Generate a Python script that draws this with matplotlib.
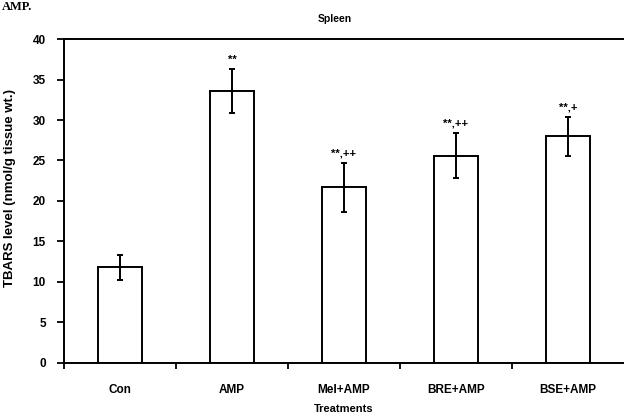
import matplotlib
matplotlib.use("Agg")
import matplotlib.pyplot as plt
import numpy as np

treatments = ["Con", "AMP", "Mel+AMP", "BRE+AMP", "BSE+AMP"]
tbars = [11.8, 33.6, 21.7, 25.6, 28.0]
sem = [1.5, 2.7, 3.0, 2.8, 2.4]
marks = ["", "**", "**,++", "**,++", "**,+"]

plt.rcParams['font.family'] = ['Liberation Sans', 'DejaVu Sans']
plt.rcParams['font.weight'] = 'bold'

fig = plt.figure(figsize=(6.24, 4.19), dpi=100)
ax = fig.add_axes([0.1026, 0.1337, 0.8974, 0.7732])

x = np.arange(len(treatments))
ax.bar(x, tbars, width=0.4, color='white', edgecolor='black', linewidth=1.4)
ax.errorbar(x, tbars, yerr=sem, fmt='none', ecolor='black', elinewidth=1.4,
            capsize=2.5, capthick=1.4)

# significance marks above the error bars
for xi, v, e, m in zip(x, tbars, sem, marks):
    if m:
        ax.text(xi, v + e + 0.5, m, ha='center', va='bottom', fontsize=8,
                fontweight='bold')

ax.set_xlim(-0.5, 4.5)
ax.set_ylim(0, 40)
ax.set_yticks(np.arange(0, 41, 5))
ax.set_xticks(x)
ax.set_xticklabels(treatments)
ax.set_xticks(np.arange(-0.5, 4.0, 1.0), minor=True)
ax.tick_params(axis='x', which='major', length=0, pad=15, labelsize=8.5)
ax.tick_params(axis='x', which='minor', length=4, width=1.3, direction='out')
ax.tick_params(axis='y', length=5, width=1.3, direction='out', labelsize=8.5, pad=8)

for side in ['left', 'bottom', 'top']:
    ax.spines[side].set_linewidth(1.4)
ax.spines['right'].set_visible(False)

ax.set_xlabel("Treatments", fontsize=8, fontweight='bold', labelpad=6)
ax.set_ylabel("TBARS level (nmol/g tissue wt.)", fontsize=9.5, fontweight='bold')
ax.yaxis.set_label_coords(-0.086, 0.54)
ax.set_title("Spleen", fontsize=7.5, fontweight='bold', pad=12, x=0.484)

fig.text(0.003, 0.998, "AMP.", fontsize=9, family='Liberation Serif',
         fontweight='bold', va='top', ha='left')

fig.savefig("out.png", dpi=100)
